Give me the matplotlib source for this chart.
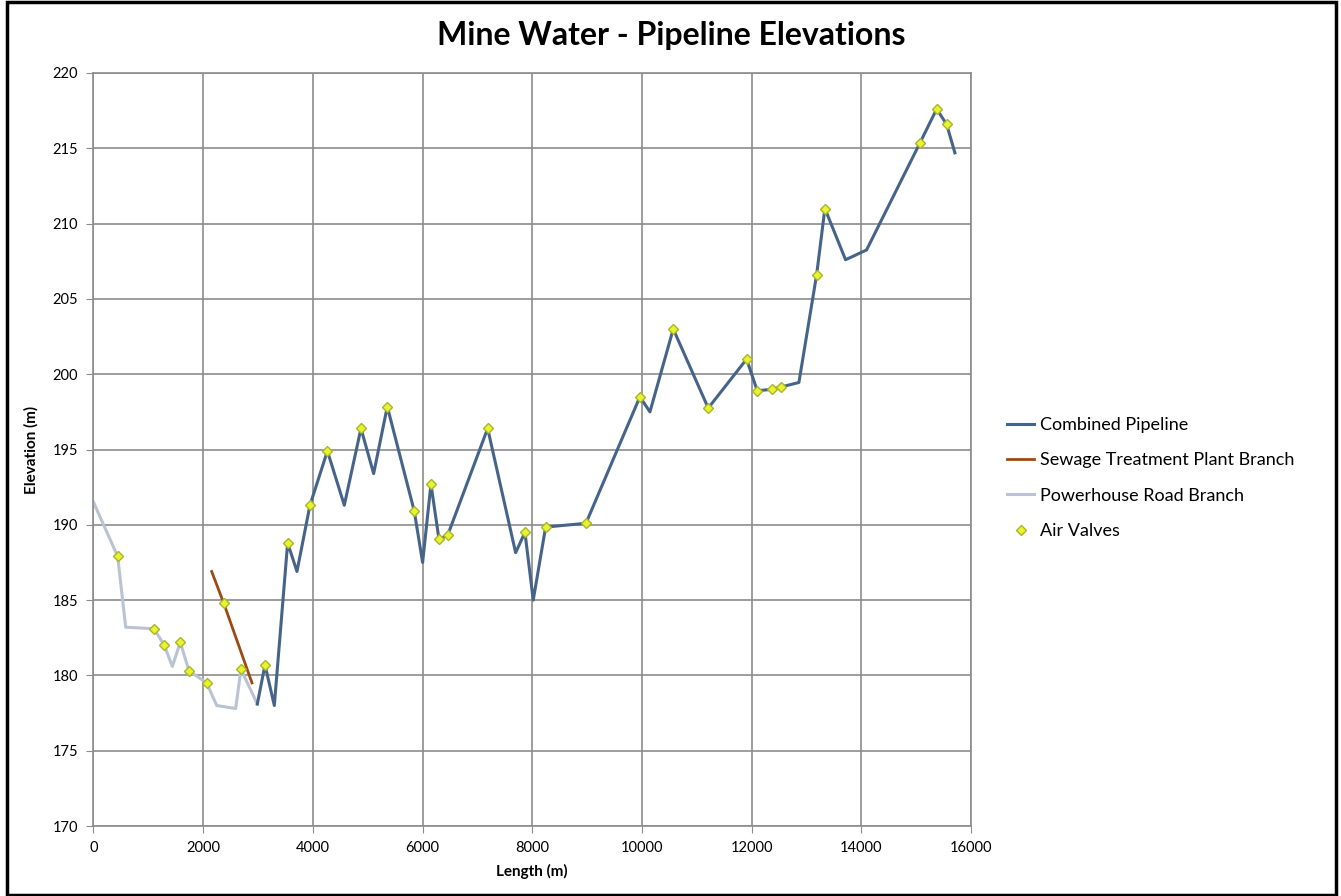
import matplotlib
matplotlib.use('Agg')
import matplotlib.pyplot as plt
from matplotlib.patches import Rectangle

plt.rcParams['font.family'] = ['Lato', 'DejaVu Sans']

# Powerhouse Road Branch
powerhouse_x = [0, 441, 587, 1103, 1291, 1437, 1583, 1741, 2064, 2246, 2592, 2689, 2987]
powerhouse_y = [191.5, 187.9, 183.2, 183.1, 182.0, 180.6, 182.2, 180.3, 179.5, 178.0, 177.8, 180.4, 178.1]

# Sewage Treatment Plant Branch
sewage_x = [2155, 2374, 2890]
sewage_y = [186.9, 184.8, 179.5]

# Combined Pipeline
combined_x = [2987, 3127, 3297, 3540, 3710, 3947, 4265, 4573, 4877, 5108, 5357,
              5849, 6001, 6153, 6299, 6457, 7187, 7697, 7867, 8018, 8244, 8979,
              9963, 10146, 10571, 11209, 11908, 12103, 12376, 12535, 12862,
              13185, 13336, 13713, 14096, 15068, 15373, 15555, 15706]
combined_y = [178.1, 180.7, 178.0, 188.8, 186.9, 191.3, 194.9, 191.3, 196.4, 193.4, 197.85,
              190.9, 187.5, 192.7, 189.05, 189.3, 196.4, 188.15, 189.5, 185.0, 189.85, 190.1,
              198.5, 197.5, 203.0, 197.75, 201.0, 198.9, 199.0, 199.15, 199.45,
              206.6, 211.0, 207.6, 208.25, 215.35, 217.6, 216.6, 214.7]

# Air Valves
valve_x = [441, 1103, 1291, 1583, 1741, 2064, 2374, 2689, 3127, 3540, 3947, 4265,
           4877, 5357, 5849, 6153, 6299, 6457, 7187, 7867, 8244, 8979, 9963, 10571,
           11209, 11908, 12103, 12376, 12535, 13185, 13336, 15068, 15373, 15555]
valve_y = [187.9, 183.1, 182.0, 182.2, 180.3, 179.5, 184.8, 180.4, 180.7, 188.8, 191.3, 194.9,
           196.4, 197.85, 190.9, 192.7, 189.05, 189.3, 196.4, 189.5, 189.85, 190.1, 198.5, 203.0,
           197.75, 201.0, 198.9, 199.0, 199.15, 206.6, 211.0, 215.35, 217.6, 216.6]

fig = plt.figure(figsize=(13.41, 8.96), dpi=100)
ax = fig.add_axes([93.5 / 1341, 1 - 826 / 896, (971 - 93.5) / 1341, (826 - 73) / 896])

ax.plot(combined_x, combined_y, color='#46648A', lw=2.2, label='Combined Pipeline', zorder=3)
ax.plot(sewage_x, sewage_y, color='#9A4A12', lw=2.0, label='Sewage Treatment Plant Branch', zorder=2)
ax.plot(powerhouse_x, powerhouse_y, color='#B9C3D3', lw=2.2, label='Powerhouse Road Branch', zorder=2)
ax.plot(valve_x, valve_y, ls='none', marker='D', ms=5, mfc='#E8F22E', mec='#A8B62A',
        mew=1.0, label='Air Valves', zorder=4)

ax.set_xlim(0, 16000)
ax.set_ylim(170, 220)
ax.set_xticks(range(0, 16001, 2000))
ax.set_yticks(range(170, 221, 5))
ax.grid(True, color='#8C8C8C', lw=1.2)
ax.set_axisbelow(True)
for s in ax.spines.values():
    s.set_color('#8C8C8C')
    s.set_linewidth(1.2)
ax.tick_params(direction='out', length=5, color='#8C8C8C', labelsize=10.5, pad=6)

ax.set_xlabel('Length (m)', fontsize=11, fontweight='bold', labelpad=6)
ax.set_ylabel('Elevation (m)', fontsize=11, fontweight='bold', labelpad=10)
fig.text(671 / 1341, 1 - 36 / 896, 'Mine Water - Pipeline Elevations', ha='center', va='center',
         fontsize=23, fontweight='bold')

ax.legend(loc='center left', bbox_to_anchor=(991 / 1341, 1 - 478 / 896),
          bbox_transform=fig.transFigure, frameon=False, fontsize=13,
          handlelength=1.5, handletextpad=0.3, labelspacing=1.07)

fig.patches.append(Rectangle((7 / 1341, 1 / 896), 1329 / 1341, 893 / 896, transform=fig.transFigure,
                             fill=False, edgecolor='black', lw=2.5))

fig.savefig('out.png', dpi=100)
